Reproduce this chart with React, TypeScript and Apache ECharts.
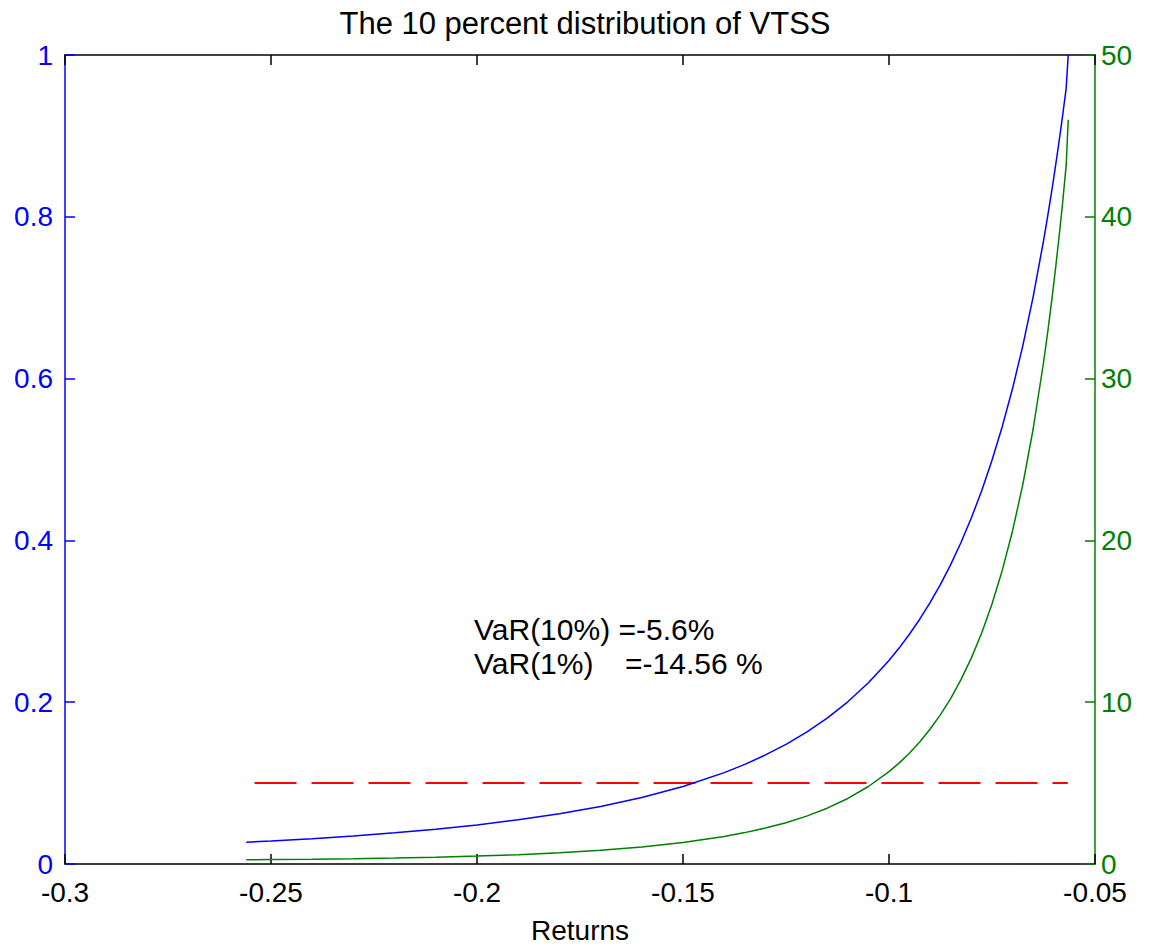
import React, { useEffect, useRef } from "react";
import * as echarts from "echarts";

const returns = [-0.256, -0.25, -0.24, -0.23, -0.22, -0.21, -0.2, -0.19, -0.18, -0.17, -0.16, -0.15, -0.14, -0.135, -0.13, -0.125, -0.12, -0.115, -0.11, -0.105, -0.1, -0.0975, -0.095, -0.0925, -0.09, -0.0875, -0.085, -0.0825, -0.08, -0.0775, -0.075, -0.0725, -0.07, -0.0675, -0.065, -0.0625, -0.0615, -0.0605, -0.06, -0.0595, -0.059, -0.0585, -0.058, -0.0575, -0.057, -0.0565];
const tailCdf = [0.027, 0.0284, 0.0313, 0.0346, 0.0385, 0.043, 0.0483, 0.0546, 0.0621, 0.0711, 0.0822, 0.0958, 0.1129, 0.1231, 0.1348, 0.1479, 0.163, 0.1804, 0.2005, 0.224, 0.2516, 0.2672, 0.2843, 0.3029, 0.3233, 0.3457, 0.3704, 0.3977, 0.4279, 0.4615, 0.499, 0.5409, 0.588, 0.6411, 0.7014, 0.7701, 0.8001, 0.8319, 0.8486, 0.8657, 0.8832, 0.9012, 0.9199, 0.9391, 0.9588, 1.0];
const tailPdf = [0.26, 0.28, 0.3, 0.33, 0.37, 0.42, 0.49, 0.575, 0.69, 0.845, 1.05, 1.325, 1.7, 1.94, 2.22, 2.55, 2.96, 3.45, 4.05, 4.79, 5.71, 6.25, 6.86, 7.55, 8.34, 9.23, 10.24, 11.41, 12.74, 14.28, 16.07, 18.16, 20.6, 23.48, 26.9, 30.98, 32.83, 34.83, 35.9, 36.98, 38.12, 39.3, 40.5, 41.83, 43.16, 46];
const refX = [-0.254, -0.0566];
const refY = [0.1, 0.1];

const xTicks = { min: -0.3, max: -0.05, interval: 0.05 };
const leftTicks = { min: 0, max: 1, interval: 0.2 };
const rightTicks = { min: 0, max: 50, interval: 10 };

const titleText = "The 10 percent distribution of VTSS";
const xName = "Returns";
const note1 = "VaR(10%) =-5.6%";
const note2a = "VaR(1%)";
const note2b = "=-14.56 %";

const FONT = "'Liberation Sans', Arial, Helvetica, sans-serif";

export default function App() {
  const ref = useRef<HTMLDivElement>(null);
  useEffect(() => {
    document.body.style.margin = "0";
    const chart = echarts.init(ref.current!, undefined, { renderer: "svg" });
    const fmt = (v: number) => String(Number(v.toFixed(3)));
    chart.setOption({
      animation: false,
      backgroundColor: "#ffffff",
      textStyle: { fontFamily: FONT },
      title: {
        text: titleText,
        left: 580,
        textAlign: "center",
        top: 3,
        textStyle: { fontFamily: FONT, fontSize: 31, fontWeight: "normal", color: "#000" },
      },
      grid: { left: 65, right: 60, top: 55, bottom: 82, containLabel: false },
      xAxis: [
        {
          type: "value",
          ...xTicks,
          position: "bottom",
          name: xName,
          nameLocation: "middle",
          nameGap: 52,
          nameTextStyle: { fontFamily: FONT, fontSize: 28, color: "#000" },
          axisLine: { show: true, onZero: false, lineStyle: { color: "#000", width: 1.5 } },
          axisTick: { show: true, inside: true, length: 10, lineStyle: { color: "#000", width: 1.5 } },
          axisLabel: { fontFamily: FONT, fontSize: 28, color: "#000", margin: 14, formatter: fmt },
          splitLine: { show: false },
        },
        {
          type: "value",
          ...xTicks,
          position: "top",
          axisLine: { show: true, onZero: false, lineStyle: { color: "#000", width: 1.5 } },
          axisTick: { show: true, inside: true, length: 10, lineStyle: { color: "#000", width: 1.5 } },
          axisLabel: { show: false },
          splitLine: { show: false },
        },
      ],
      yAxis: [
        {
          type: "value",
          ...leftTicks,
          position: "left",
          axisLine: { show: true, onZero: false, lineStyle: { color: "#0000ff", width: 1.5 } },
          axisTick: { show: true, inside: true, length: 10, lineStyle: { color: "#0000ff", width: 1.5 } },
          axisLabel: { fontFamily: FONT, fontSize: 28, color: "#0000ff", margin: 12, formatter: fmt },
          splitLine: { show: false },
        },
        {
          type: "value",
          ...rightTicks,
          position: "right",
          axisLine: { show: true, onZero: false, lineStyle: { color: "#008000", width: 1.5 } },
          axisTick: { show: true, inside: true, length: 10, lineStyle: { color: "#008000", width: 1.5 } },
          axisLabel: { fontFamily: FONT, fontSize: 28, color: "#008000", margin: 6 },
          splitLine: { show: false },
        },
      ],
      series: [
        {
          type: "line",
          xAxisIndex: 0,
          yAxisIndex: 0,
          data: returns.map((x, i) => [x, tailCdf[i]]),
          showSymbol: false,
          smooth: false,
          lineStyle: { color: "#0000ff", width: 1.5 },
          z: 3,
        },
        {
          type: "line",
          xAxisIndex: 0,
          yAxisIndex: 1,
          data: returns.map((x, i) => [x, tailPdf[i]]),
          showSymbol: false,
          smooth: false,
          lineStyle: { color: "#008000", width: 1.5 },
          z: 3,
        },
        {
          type: "line",
          xAxisIndex: 0,
          yAxisIndex: 0,
          data: refX.map((x, i) => [x, refY[i]]),
          showSymbol: false,
          lineStyle: { color: "#ff0000", width: 2, type: [42, 15] },
          z: 2,
        },
      ],
      graphic: [
        {
          type: "text",
          left: 474,
          top: 614,
          style: { text: note1, font: `30px ${FONT}`, fill: "#000" },
        },
        {
          type: "text",
          left: 474,
          top: 648,
          style: { text: note2a, font: `30px ${FONT}`, fill: "#000" },
        },
        {
          type: "text",
          left: 625,
          top: 648,
          style: { text: note2b, font: `30px ${FONT}`, fill: "#000" },
        },
      ],
    });
    return () => chart.dispose();
  }, []);
  return <div ref={ref} style={{ width: 1155, height: 949 }} />;
}
